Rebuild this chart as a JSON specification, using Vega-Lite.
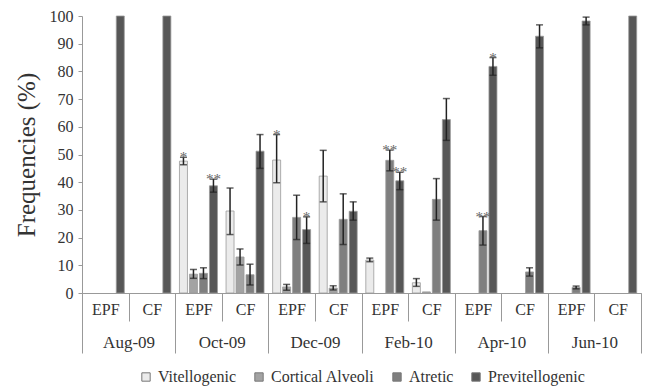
{
  "$schema": "https://vega.github.io/schema/vega-lite/v6.json",
  "width": 559,
  "height": 277,
  "padding": {"left": 14, "top": 8, "right": 5, "bottom": 5},
  "background": "white",
  "config": {
    "view": {"stroke": null},
    "font": "Liberation Serif",
    "axis": {"labelFont": "Liberation Serif", "titleFont": "Liberation Serif", "labelColor": "#333", "titleColor": "#333", "domainColor": "#999", "tickColor": "#999", "grid": false},
    "legend": {"labelFont": "serif", "layout": {"bottom": {"anchor": "middle"}}}
  },
  "data": {"values": [
    {"month": "Aug-09", "type": "EPF", "key": "Aug-09 EPF", "stage": "Previtellogenic", "value": 100},
    {"month": "Aug-09", "type": "CF", "key": "Aug-09 CF", "stage": "Previtellogenic", "value": 100},
    {"month": "Oct-09", "type": "EPF", "key": "Oct-09 EPF", "stage": "Vitellogenic", "value": 47.6, "lo": 46.3, "hi": 49.0, "sig": "*"},
    {"month": "Oct-09", "type": "EPF", "key": "Oct-09 EPF", "stage": "Cortical Alveoli", "value": 6.8, "lo": 5.3, "hi": 8.5},
    {"month": "Oct-09", "type": "EPF", "key": "Oct-09 EPF", "stage": "Atretic", "value": 7.1, "lo": 5.2, "hi": 9.1},
    {"month": "Oct-09", "type": "EPF", "key": "Oct-09 EPF", "stage": "Previtellogenic", "value": 38.7, "lo": 36.4, "hi": 41.1, "sig": "**"},
    {"month": "Oct-09", "type": "CF", "key": "Oct-09 CF", "stage": "Vitellogenic", "value": 29.6, "lo": 21.1, "hi": 37.9},
    {"month": "Oct-09", "type": "CF", "key": "Oct-09 CF", "stage": "Cortical Alveoli", "value": 13.0, "lo": 10.1, "hi": 15.9},
    {"month": "Oct-09", "type": "CF", "key": "Oct-09 CF", "stage": "Atretic", "value": 6.6, "lo": 2.9, "hi": 10.4},
    {"month": "Oct-09", "type": "CF", "key": "Oct-09 CF", "stage": "Previtellogenic", "value": 51.2, "lo": 45.0, "hi": 57.2},
    {"month": "Dec-09", "type": "EPF", "key": "Dec-09 EPF", "stage": "Vitellogenic", "value": 48.0, "lo": 39.8, "hi": 57.2, "sig": "*"},
    {"month": "Dec-09", "type": "EPF", "key": "Dec-09 EPF", "stage": "Cortical Alveoli", "value": 2.2, "lo": 1.0, "hi": 3.1},
    {"month": "Dec-09", "type": "EPF", "key": "Dec-09 EPF", "stage": "Atretic", "value": 27.3, "lo": 19.3, "hi": 35.3},
    {"month": "Dec-09", "type": "EPF", "key": "Dec-09 EPF", "stage": "Previtellogenic", "value": 22.9, "lo": 17.9, "hi": 27.5, "sig": "*"},
    {"month": "Dec-09", "type": "CF", "key": "Dec-09 CF", "stage": "Vitellogenic", "value": 42.2, "lo": 32.9, "hi": 51.5},
    {"month": "Dec-09", "type": "CF", "key": "Dec-09 CF", "stage": "Cortical Alveoli", "value": 1.8, "lo": 1.1, "hi": 2.6},
    {"month": "Dec-09", "type": "CF", "key": "Dec-09 CF", "stage": "Atretic", "value": 26.6, "lo": 17.5, "hi": 35.8},
    {"month": "Dec-09", "type": "CF", "key": "Dec-09 CF", "stage": "Previtellogenic", "value": 29.5, "lo": 26.3, "hi": 32.9},
    {"month": "Feb-10", "type": "EPF", "key": "Feb-10 EPF", "stage": "Vitellogenic", "value": 11.9, "lo": 11.3, "hi": 12.6},
    {"month": "Feb-10", "type": "EPF", "key": "Feb-10 EPF", "stage": "Atretic", "value": 47.9, "lo": 44.1, "hi": 51.6, "sig": "**"},
    {"month": "Feb-10", "type": "EPF", "key": "Feb-10 EPF", "stage": "Previtellogenic", "value": 40.5, "lo": 37.3, "hi": 43.6, "sig": "**"},
    {"month": "Feb-10", "type": "CF", "key": "Feb-10 CF", "stage": "Vitellogenic", "value": 3.7, "lo": 2.4, "hi": 5.2},
    {"month": "Feb-10", "type": "CF", "key": "Feb-10 CF", "stage": "Cortical Alveoli", "value": 0.4},
    {"month": "Feb-10", "type": "CF", "key": "Feb-10 CF", "stage": "Atretic", "value": 33.8, "lo": 26.3, "hi": 41.3},
    {"month": "Feb-10", "type": "CF", "key": "Feb-10 CF", "stage": "Previtellogenic", "value": 62.6, "lo": 55.1, "hi": 70.2},
    {"month": "Apr-10", "type": "EPF", "key": "Apr-10 EPF", "stage": "Atretic", "value": 22.5, "lo": 17.3, "hi": 27.6, "sig": "**"},
    {"month": "Apr-10", "type": "EPF", "key": "Apr-10 EPF", "stage": "Previtellogenic", "value": 81.8, "lo": 78.6, "hi": 85.0, "sig": "*"},
    {"month": "Apr-10", "type": "CF", "key": "Apr-10 CF", "stage": "Atretic", "value": 7.6, "lo": 6.1, "hi": 9.1},
    {"month": "Apr-10", "type": "CF", "key": "Apr-10 CF", "stage": "Previtellogenic", "value": 92.7, "lo": 88.5, "hi": 96.8},
    {"month": "Jun-10", "type": "EPF", "key": "Jun-10 EPF", "stage": "Atretic", "value": 2.0, "lo": 1.5, "hi": 2.5},
    {"month": "Jun-10", "type": "EPF", "key": "Jun-10 EPF", "stage": "Previtellogenic", "value": 98.2, "lo": 96.8, "hi": 99.6},
    {"month": "Jun-10", "type": "CF", "key": "Jun-10 CF", "stage": "Previtellogenic", "value": 100}
  ]},
  "layer": [
    {
      "mark": {"type": "tick", "opacity": 0},
      "encoding": {
        "x": {"field": "month", "type": "nominal", "sort": ["Aug-09", "Oct-09", "Dec-09", "Feb-10", "Apr-10", "Jun-10"],
              "scale": {"paddingInner": 0, "paddingOuter": 0},
              "axis": {"orient": "bottom", "title": null, "ticks": true, "tickBand": "extent", "tickSize": 60, "domain": false, "labelAngle": 0, "labelFontSize": 17, "labelPadding": -19, "labelColor": "#333"}}
      }
    },
    {
      "encoding": {
        "x": {"field": "key", "type": "nominal", "sort": null,
              "scale": {"paddingInner": 0, "paddingOuter": 0},
              "axis": {"orient": "bottom", "title": null, "labelAngle": 0, "labelFontSize": 16, "labelPadding": -20,
                       "labelExpr": "split(datum.label, ' ')[1]",
                       "tickBand": "extent", "tickSize": 28}},
        "xOffset": {"field": "stage", "type": "nominal", "scale": {"domain": ["Vitellogenic", "Cortical Alveoli", "Atretic", "Previtellogenic"], "paddingInner": 0.2, "paddingOuter": 0.43}}
      },
      "layer": [
        {
          "mark": {"type": "bar", "stroke": "#9a9a9a", "strokeWidth": 0.8},
          "encoding": {
            "y": {"field": "value", "type": "quantitative", "scale": {"domain": [0, 100], "nice": false},
                  "axis": {"title": "Frequencies (%)", "titleFontSize": 25, "titleFontWeight": "normal", "titlePadding": 10, "labelFontSize": 16, "values": [0,10,20,30,40,50,60,70,80,90,100], "tickCount": 12, "labelOverlap": false, "tickSize": 4, "labelPadding": 5}},
            "color": {"field": "stage", "type": "nominal",
                      "scale": {"domain": ["Vitellogenic", "Cortical Alveoli", "Atretic", "Previtellogenic"], "range": ["#ebebeb", "#a3a3a3", "#7f7f7f", "#575757"]},
                      "legend": {"title": null, "orient": "bottom", "direction": "horizontal", "symbolType": "square", "symbolSize": 70, "symbolStrokeColor": "#777", "symbolStrokeWidth": 1, "labelFont": "serif", "labelFontSize": 16, "labelColor": "#333", "columnPadding": 14, "offset": 15}}
          }
        },
        {
          "transform": [{"filter": "isValid(datum.lo)"}],
          "mark": {"type": "rule", "color": "#222", "strokeWidth": 1.5},
          "encoding": {"y": {"field": "lo", "type": "quantitative"}, "y2": {"field": "hi"}}
        },
        {
          "transform": [{"filter": "isValid(datum.lo)"}],
          "mark": {"type": "tick", "color": "#222", "thickness": 1.5, "size": 7},
          "encoding": {"y": {"field": "lo", "type": "quantitative"}}
        },
        {
          "transform": [{"filter": "isValid(datum.lo)"}],
          "mark": {"type": "tick", "color": "#222", "thickness": 1.5, "size": 7},
          "encoding": {"y": {"field": "hi", "type": "quantitative"}}
        },
        {
          "transform": [{"filter": "isValid(datum.sig)"}],
          "mark": {"type": "text", "color": "#666", "fontSize": 15, "baseline": "alphabetic", "dy": 5, "font": "Liberation Serif"},
          "encoding": {"y": {"field": "hi", "type": "quantitative"}, "text": {"field": "sig"}}
        }
      ]
    }
  ],
  "resolve": {"scale": {"x": "independent"}}
}
